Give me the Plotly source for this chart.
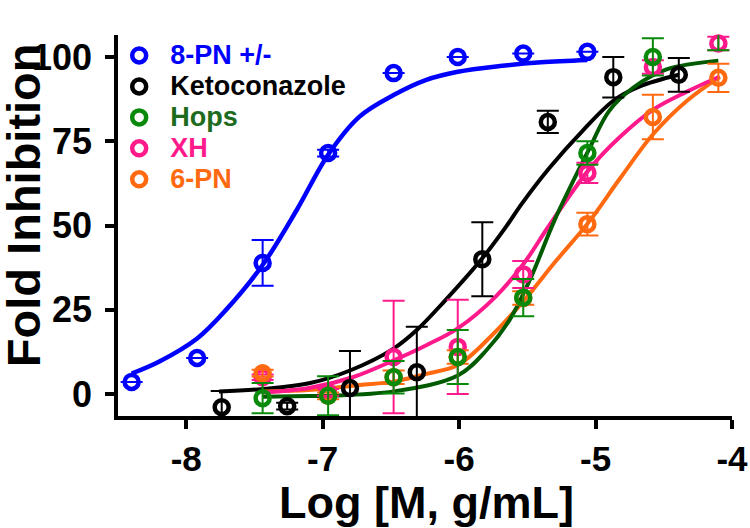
import plotly.graph_objects as go

# ---------------- data ----------------
labels = ["8-PN +/-", "Ketoconazole", "Hops", "XH", "6-PN"]

x_8pn = [-8.40, -7.92, -7.44, -6.96, -6.48, -6.01, -5.53, -5.06]
y_8pn = [3.6, 10.7, 38.9, 71.5, 95.2, 100.0, 101.0, 101.5]
e_8pn = [0, 0, 6.8, 1.0, 0, 0, 0, 0]

x_keto = [-7.74, -7.26, -6.80, -6.31, -5.83, -5.35, -4.87, -4.39]
y_keto = [-3.9, -3.6, 1.8, 6.5, 40.0, 80.7, 94.0, 94.7]
e_keto = [4.8, 1.0, 11.0, 13.5, 11.0, 3.3, 6.0, 5.0]

x_hops = [-7.44, -6.96, -6.48, -6.01, -5.53, -5.06, -4.58, -4.10]
y_hops = [-1.2, -0.5, 5.0, 11.0, 28.6, 71.5, 100.0, 109.5]
e_hops = [4.5, 5.8, 4.8, 8.0, 5.5, 3.5, 5.5, 7.5]

x_xh = [-7.44, -6.96, -6.48, -6.01, -5.53, -5.06, -4.58, -4.10]
y_xh = [5.0, 0.5, 11.0, 14.0, 35.5, 65.6, 97.0, 104.0]
e_xh = [0.8, 1.0, 16.7, 14.0, 4.0, 3.0, 2.0, 2.0]

x_6pn = [-7.44, -6.96, -6.48, -6.01, -5.53, -5.06, -4.58, -4.10]
y_6pn = [6.2, -0.5, 5.0, 11.0, 28.5, 50.4, 82.2, 93.8]
e_6pn = [1.0, 1.0, 2.0, 2.0, 2.0, 3.4, 6.6, 4.2]

# fitted curves
cx_8pn = [-8.40, -8.20, -7.92, -7.71, -7.44, -7.19, -6.96, -6.73, -6.48, -6.24, -6.01, -5.70, -5.40, -5.06]
cy_8pn = [6.1, 9.6, 16.5, 24.9, 38.3, 54.6, 71.0, 82.3, 88.7, 93.2, 95.6, 97.3, 98.4, 99.1]

cx_keto = [-7.76, -7.41, -7.10, -6.80, -6.48, -6.31, -6.12, -5.83, -5.65, -5.54, -5.34, -5.09, -4.87, -4.68, -4.39]
cy_keto = [0.8, 1.6, 3.2, 7.0, 13.5, 19.0, 27.0, 40.3, 50.0, 56.5, 67.0, 78.3, 87.0, 91.2, 94.7]

cx_hops = [-7.44, -7.10, -6.96, -6.48, -6.01, -5.80, -5.63, -5.48, -5.30, -5.05, -4.90, -4.72, -4.48, -4.10]
cy_hops = [-0.8, -0.6, -0.5, 0.8, 5.5, 13.0, 22.0, 34.0, 51.6, 72.4, 84.0, 91.0, 96.3, 98.9]

cx_xh = [-7.44, -7.10, -6.78, -6.48, -6.24, -6.01, -5.73, -5.53, -5.34, -5.05, -4.82, -4.58, -4.33, -4.09]
cy_xh = [0.5, 1.8, 5.0, 10.0, 14.5, 19.5, 29.0, 38.5, 50.0, 66.5, 76.3, 84.3, 89.7, 94.2]

cx_6pn = [-7.44, -7.10, -6.73, -6.48, -6.24, -6.01, -5.77, -5.53, -5.30, -5.05, -4.82, -4.58, -4.33, -4.09]
cy_6pn = [0.8, 1.2, 2.7, 3.7, 6.0, 8.6, 17.0, 27.5, 39.0, 51.0, 64.0, 77.0, 87.0, 94.0]

x_ticks = [-8, -7, -6, -5, -4]
y_ticks = [0, 25, 50, 75, 100]

# ---------------- styling ----------------
FONT = "Liberation Sans, Arial, sans-serif"
c_blue = "#0000FF"
c_black = "#000000"
c_green_pt = "#0A8A0A"
c_green_ln = "#005A00"
c_green_tx = "#1E6B1E"
c_pink = "#FF1A8C"
c_orange = "#FF6A10"

fig = go.Figure()

curves = [
    (cx_8pn, cy_8pn, c_blue, 4.5),
    (cx_keto, cy_keto, c_black, 4),
    (cx_6pn, cy_6pn, c_orange, 4),
    (cx_xh, cy_xh, c_pink, 4),
    (cx_hops, cy_hops, c_green_ln, 4),
]
for cx, cy, col, w in curves:
    fig.add_trace(go.Scatter(x=cx, y=cy, mode="lines",
                             line=dict(color=col, width=w, shape="spline", smoothing=1.0),
                             showlegend=False, hoverinfo="skip", cliponaxis=False))

points = [
    (x_8pn, y_8pn, e_8pn, c_blue, c_blue, labels[0], 1),
    (x_keto, y_keto, e_keto, c_black, c_black, labels[1], 2),
    (x_xh, y_xh, e_xh, c_pink, c_pink, labels[3], 4),
    (x_6pn, y_6pn, e_6pn, c_orange, c_orange, labels[4], 5),
    (x_hops, y_hops, e_hops, c_green_pt, c_green_tx, labels[2], 3),
]
for xs, ys, es, col, tcol, lab, rank in points:
    fig.add_trace(go.Scatter(
        x=xs, y=ys, mode="markers",
        marker=dict(symbol="circle-open", size=14, color=col, line=dict(width=4.5, color=col)),
        error_y=dict(type="data", array=es, visible=True, color=col, thickness=2, width=11),
        name=f"<span style='color:{tcol};font-size:27px'>{lab}</span>",
        legendrank=rank, cliponaxis=False,
    ))

fig.update_layout(
    width=750, height=528,
    margin=dict(l=118, r=18, t=35, b=112, autoexpand=False),
    paper_bgcolor="white", plot_bgcolor="white",
    font=dict(family=FONT, color="black", weight="bold"),
    showlegend=True,
    legend=dict(x=-0.016, y=1.0, xanchor="left", yanchor="top",
                bgcolor="rgba(0,0,0,0)", font=dict(size=21.5, family=FONT, weight="bold"),
                itemwidth=52, tracegroupgap=0),
    xaxis=dict(range=[-8.5, -4.0], tickvals=x_ticks, ticktext=[str(v) for v in x_ticks],
               automargin=False,
               showline=True, linecolor="black", linewidth=3.5,
               ticks="outside", ticklen=9, tickwidth=3.5, tickcolor="black",
               showgrid=False, zeroline=False,
               tickfont=dict(size=35, family=FONT, weight="bold", color="black")),
    yaxis=dict(range=[-6.5, 106.5], tickvals=y_ticks, ticktext=[str(v) for v in y_ticks],
               automargin=False, ticklabelstandoff=6,
               showline=True, linecolor="black", linewidth=3.5,
               ticks="outside", ticklen=9, tickwidth=3.5, tickcolor="black",
               showgrid=False, zeroline=False,
               tickfont=dict(size=36, family=FONT, weight="bold", color="black")),
    annotations=[
        dict(text="Log [M, g/mL]", xref="paper", yref="paper", x=0.502, y=-0.226,
             xanchor="center", yanchor="middle", showarrow=False,
             font=dict(size=45, family=FONT, weight="bold", color="black")),
        dict(text="Fold Inhibition", xref="paper", yref="paper", x=-0.155, y=0.553,
             xanchor="center", yanchor="middle", showarrow=False, textangle=-90,
             font=dict(size=47, family=FONT, weight="bold", color="black")),
    ],
)

fig.write_html("out.html",
               config={"displayModeBar": False},
               post_script="document.body.style.margin='0';document.body.style.padding='0';")
